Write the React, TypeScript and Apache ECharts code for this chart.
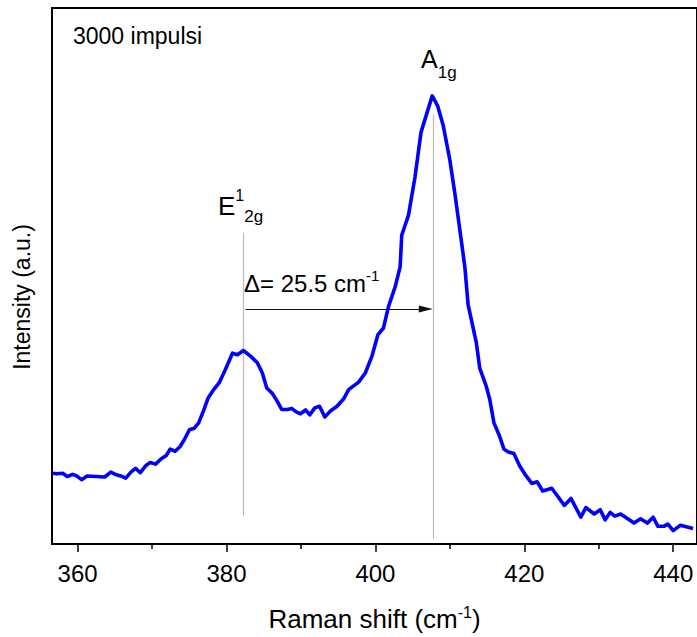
import React, { useEffect, useRef } from "react";
import * as echarts from "echarts";

// Raman spectrum, 3000 pulses: wavenumber (cm-1) and intensity (a.u.)
const ramanShift = [
  356.6, 357.19, 357.99, 358.61, 359.33, 359.87, 360.53, 361.28, 362.5, 363.65,
  364.45, 365.21, 365.79, 366.46, 367.22, 367.79, 368.42, 369.22, 369.76, 370.47,
  371.23, 371.9, 372.43, 373.1, 373.77, 374.34, 375.01, 375.68, 376.26, 376.89,
  377.55, 378.22, 379.02, 379.83, 380.8, 381.47, 382.27, 383.26, 384.14, 384.81,
  385.4, 386.15, 386.82, 387.41, 388.16, 388.74, 389.41, 389.95, 390.61, 391.19,
  391.86, 392.49, 393.2, 393.96, 394.84, 395.74, 396.4, 397.74, 398.64, 399.52,
  400.32, 401.08, 401.75, 402.65, 403.32, 403.53, 404.43, 405.32, 406.12, 406.87,
  407.63, 408.34, 409.1, 410.0, 410.67, 411.34, 412.01, 412.45, 412.89, 413.56,
  414.01, 414.89, 415.35, 415.92, 416.68, 417.26, 417.79, 418.59, 419.36, 420.24,
  421.0, 421.71, 422.47, 423.68, 424.48, 425.37, 426.26, 427.59, 428.26, 429.39,
  430.19, 430.86, 431.52, 432.14, 432.94, 434.73, 435.61, 436.51, 437.31, 437.94,
  438.74, 439.28, 439.99, 440.96, 442.66,
];
const intensity = [
  13.2, 13.1, 13.2, 12.6, 13.0, 12.7, 12.0, 12.7, 12.6, 12.5,
  13.4, 12.9, 12.7, 12.3, 13.5, 14.1, 13.3, 14.7, 15.2, 14.9,
  15.9, 16.5, 17.7, 17.3, 18.2, 19.5, 21.3, 21.6, 22.6, 24.8,
  27.3, 28.7, 30.1, 32.5, 35.6, 35.3, 36.1, 35.0, 33.8, 31.9,
  29.1, 28.1, 26.6, 25.1, 25.1, 25.3, 24.6, 24.3, 25.0, 24.1,
  25.4, 25.7, 23.7, 24.8, 25.7, 27.1, 28.8, 30.2, 31.9, 35.0,
  39.0, 40.3, 44.3, 48.0, 51.7, 57.6, 61.3, 68.5, 76.8, 80.2,
  83.6, 81.8, 78.1, 71.6, 65.4, 58.6, 51.7, 44.6, 41.8, 37.5,
  32.8, 29.4, 27.0, 22.6, 20.1, 17.7, 17.2, 16.9, 14.6, 12.7,
  11.3, 11.6, 9.9, 10.4, 8.9, 7.2, 8.5, 5.0, 6.8, 5.6,
  6.4, 4.5, 5.9, 5.2, 5.6, 3.9, 4.7, 3.9, 5.0, 3.3,
  3.3, 3.7, 2.5, 3.5, 2.9,
];

const majorTicks = [360, 380, 400, 420, 440];
const minorTicks = [370, 390, 410, 430];

// Peak positions (cm-1) and the vertical extent of their guide lines (a.u.)
const ePeak = 382.2;
const aPeak = 407.7;
const eGuide = [5.2, 58.1];
const aGuide = [0.9, 80.1];
const arrowLevel = 43.85;

const X_MIN = 356.56;
const X_MAX = 443.19;

const FONT = "'Liberation Sans', Arial, Helvetica, sans-serif";

export default function App() {
  const ref = useRef<HTMLDivElement>(null);

  useEffect(() => {
    if (!ref.current) return;
    const chart = echarts.init(ref.current, undefined, { renderer: "svg" });

    const gridLeft = 52;
    const gridRight = -3;
    const gridWidth = 697 - gridLeft - gridRight;
    const pxPerUnit = gridWidth / (X_MAX - X_MIN);
    const headLen = 14;
    const arrowStart = ePeak + 0.35;
    const arrowEnd = aPeak - headLen / 2 / pxPerUnit;
    const shift = (aPeak - ePeak).toFixed(1);

    const guideStyle = { color: "#bdbdbd", width: 1.2, type: "solid" as const };

    chart.setOption({
      animation: false,
      backgroundColor: "#fff",
      grid: {
        left: gridLeft,
        right: gridRight,
        top: 8,
        bottom: 92,
        show: true,
        borderColor: "#000",
        borderWidth: 2,
      },
      xAxis: [
        {
          type: "value",
          min: X_MIN,
          max: X_MAX,
          position: "bottom",
          axisLine: { show: false },
          splitLine: { show: false },
          axisTick: {
            show: true,
            inside: false,
            length: 8,
            customValues: majorTicks,
            lineStyle: { color: "#000", width: 1.5 },
          },
          axisLabel: {
            customValues: majorTicks,
            margin: 17,
            fontSize: 24,
            fontFamily: FONT,
            color: "#000",
          },
          name: "{m|Raman shift (cm}{sup|-1}{m|)}",
          nameLocation: "middle",
          nameGap: 60,
          nameTextStyle: {
            rich: {
              m: { fontSize: 26, fontFamily: FONT, color: "#000", lineHeight: 30 },
              sup: { fontSize: 16, fontFamily: FONT, color: "#000", verticalAlign: "top" },
            },
          },
        },
        {
          type: "value",
          min: X_MIN,
          max: X_MAX,
          position: "bottom",
          axisLine: { show: false },
          splitLine: { show: false },
          axisLabel: { show: false },
          axisTick: {
            show: true,
            inside: false,
            length: 5,
            customValues: minorTicks,
            lineStyle: { color: "#000", width: 1.5 },
          },
        },
      ],
      yAxis: {
        type: "value",
        min: 0,
        max: 100,
        axisLine: { show: false },
        axisTick: { show: false },
        axisLabel: { show: false },
        splitLine: { show: false },
        name: "Intensity (a.u.)",
        nameLocation: "middle",
        nameGap: 19,
        nameTextStyle: {
          fontSize: 23,
          fontFamily: FONT,
          color: "#000",
          padding: [0, 42, 0, 0],
        },
      },
      series: [
        {
          type: "line",
          xAxisIndex: 0,
          data: ramanShift.map((x, i) => [x, intensity[i]]),
          showSymbol: false,
          lineStyle: { color: "#0000ff", width: 3.6, join: "round" },
          z: 3,
          markLine: {
            silent: true,
            symbol: "none",
            label: { show: false },
            z: 2,
            data: [
              [
                { coord: [ePeak, eGuide[0]], lineStyle: guideStyle },
                { coord: [ePeak, eGuide[1]] },
              ],
              [
                { coord: [aPeak, aGuide[0]], lineStyle: guideStyle },
                { coord: [aPeak, aGuide[1]] },
              ],
              [
                {
                  coord: [arrowStart, arrowLevel],
                  symbol: "none",
                  lineStyle: { color: "#111", width: 1, type: "solid" },
                },
                {
                  coord: [arrowEnd, arrowLevel],
                  symbol: "triangle",
                  symbolSize: [7, headLen],
                  itemStyle: { color: "#000" },
                },
              ],
            ],
          },
        },
      ],
      graphic: [
        {
          type: "text",
          x: 73,
          y: 36,
          style: {
            text: "3000 impulsi",
            font: `23px ${FONT}`,
            fill: "#000",
            align: "left",
            verticalAlign: "middle",
          },
        },
        {
          type: "text",
          x: 218,
          y: 187,
          style: {
            text: "{m|E}{sup|1}{sub|2g}",
            align: "left",
            verticalAlign: "top",
            fill: "#000",
            rich: {
              m: { fontSize: 26, fontFamily: FONT, fill: "#000", lineHeight: 38, verticalAlign: "middle" },
              sup: { fontSize: 16, fontFamily: FONT, fill: "#000", verticalAlign: "top" },
              sub: { fontSize: 17, fontFamily: FONT, fill: "#000", verticalAlign: "bottom" },
            },
          },
        },
        {
          type: "text",
          x: 421,
          y: 46,
          style: {
            text: "{m|A}{sub|1g}",
            align: "left",
            verticalAlign: "top",
            fill: "#000",
            rich: {
              m: { fontSize: 25, fontFamily: FONT, fill: "#000", lineHeight: 35, verticalAlign: "top" },
              sub: { fontSize: 17, fontFamily: FONT, fill: "#000", verticalAlign: "bottom" },
            },
          },
        },
        {
          type: "text",
          x: 244,
          y: 268,
          style: {
            text: `{m|\u0394= ${shift} cm}{sup|-1}`,
            align: "left",
            verticalAlign: "top",
            fill: "#000",
            rich: {
              m: { fontSize: 24, fontFamily: FONT, fill: "#000", lineHeight: 31, verticalAlign: "middle" },
              sup: { fontSize: 15, fontFamily: FONT, fill: "#000", verticalAlign: "top" },
            },
          },
        },
      ],
    });

    return () => chart.dispose();
  }, []);

  return (
    <div
      ref={ref}
      style={{ position: "absolute", left: 0, top: 0, width: 697, height: 637 }}
    />
  );
}
